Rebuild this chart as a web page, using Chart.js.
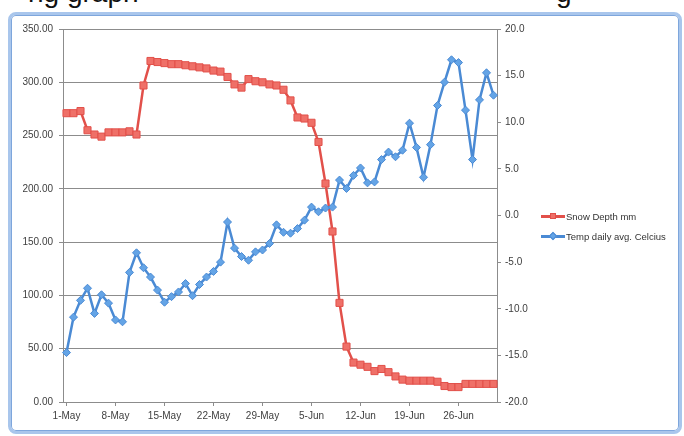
<!DOCTYPE html>
<html>
<head>
<meta charset="utf-8">
<script src="https://cdn.jsdelivr.net/npm/chart.js@4.4.1/dist/chart.umd.min.js"></script>
<style>
  body { margin: 0; background: #fff; width: 684px; height: 436px; overflow: hidden; position: relative; font-family: "Liberation Sans", Arial, sans-serif; }
  .frag { position: absolute; top: -21px; font-size: 28px; line-height: 28px; color: #111; font-family: "Liberation Sans", Arial, sans-serif; }
  #frame { position: absolute; left: 8px; top: 12px; width: 668px; height: 416px; border: 3px solid #a9c6ec; border-radius: 8px; box-shadow: inset 0 0 0 1px #7ea6dc; background: #fff; }
  #chart { position: absolute; left: 0; top: 0; }
  #legend { position: absolute; left: 541px; top: 206px; font-size: 9.5px; color: #333; }
  .item { height: 20px; display: flex; align-items: center; white-space: nowrap; }
  .sample { position: relative; width: 24px; height: 10px; margin-right: 1px; }
  .sample .ln { position: absolute; left: 0; top: 4px; width: 24px; height: 2.5px; }
  .sample .mk { position: absolute; left: 9px; top: 2px; width: 6px; height: 6px; }
</style>
</head>
<body>
<div class="frag" style="left:28px">ng graph</div>
<div class="frag" style="left:556px">g</div>
<div id="frame"></div>
<canvas id="chart" width="684" height="436"></canvas>
<div id="legend"></div>
<script>
const categories = [
  '1-May','2-May','3-May','4-May','5-May','6-May','7-May','8-May','9-May','10-May',
  '11-May','12-May','13-May','14-May','15-May','16-May','17-May','18-May','19-May','20-May',
  '21-May','22-May','23-May','24-May','25-May','26-May','27-May','28-May','29-May','30-May',
  '31-May','1-Jun','2-Jun','3-Jun','4-Jun','5-Jun','6-Jun','7-Jun','8-Jun','9-Jun',
  '10-Jun','11-Jun','12-Jun','13-Jun','14-Jun','15-Jun','16-Jun','17-Jun','18-Jun','19-Jun',
  '20-Jun','21-Jun','22-Jun','23-Jun','24-Jun','25-Jun','26-Jun','27-Jun','28-Jun','29-Jun',
  '30-Jun','1-Jul'
];
const xTickLabels = ['1-May','8-May','15-May','22-May','29-May','5-Jun','12-Jun','19-Jun','26-Jun'];

const snowDepth = [
  271, 271, 273, 255, 251, 249, 253, 253, 253, 254,
  251, 297, 320, 319, 318, 317, 317, 316, 315, 314,
  313, 311, 310, 305, 298, 295, 303, 301, 300, 298,
  297, 293, 283, 267, 266, 262, 244, 205, 160, 93,
  52, 37, 35, 33, 29, 31, 28, 24, 21, 20,
  20, 20, 20, 19, 15, 14, 14, 17, 17, 17,
  17, 17
];
const tempAvg = [
  -14.7, -10.9, -9.1, -7.8, -10.5, -8.5, -9.4, -11.2, -11.4, -6.1,
  -4.0, -5.6, -6.6, -8.0, -9.3, -8.7, -8.2, -7.3, -8.6, -7.4,
  -6.6, -6.0, -5.0, -0.7, -3.5, -4.4, -4.8, -3.9, -3.7, -3.0,
  -1.0, -1.8, -1.9, -1.4, -0.5, 0.9, 0.4, 0.8, 0.9, 3.8,
  2.9, 4.3, 5.1, 3.5, 3.6, 6.0, 6.8, 6.3, 7.0, 9.9,
  7.3, 4.1, 7.6, 11.8, 14.3, 16.7, 16.4, 11.3, 6.0, 12.4,
  15.3, 12.9
];
const seriesNames = ['Snow Depth mm', 'Temp daily avg. Celcius'];

const red = '#e2504a', redFill = '#ef7068';
const blue = '#4a8ad4', blueFill = '#64a4e6';
const gridColor = '#8c8c8c';
const tickFont = { family: '"Liberation Sans", Arial, sans-serif', size: 10 };

new Chart(document.getElementById('chart'), {
  type: 'line',
  data: {
    labels: categories,
    datasets: [
      {
        label: seriesNames[0], data: snowDepth, yAxisID: 'y', order: 1,
        borderColor: red, borderWidth: 2.5, tension: 0,
        pointStyle: 'rect', pointRadius: 5, pointBackgroundColor: redFill, pointBorderColor: red, pointBorderWidth: 1
      },
      {
        label: seriesNames[1], data: tempAvg, yAxisID: 'y1', order: 0,
        borderColor: blue, borderWidth: 2.5, tension: 0,
        pointStyle: 'rectRot', pointRadius: 4, pointBackgroundColor: blueFill, pointBorderColor: blue, pointBorderWidth: 1
      }
    ]
  },
  options: {
    responsive: false,
    animation: false,
    devicePixelRatio: 1,
    layout: { padding: { left: 0, right: 137, top: 29, bottom: 12 } },
    plugins: { legend: { display: false }, tooltip: { enabled: false } },
    scales: {
      x: {
        offset: true,
        grid: {
          drawOnChartArea: false, tickLength: 4,
          color: ctx => (xTickLabels.includes(categories[ctx.index]) ? gridColor : 'transparent')
        },
        border: { color: gridColor },
        ticks: {
          autoSkip: false, maxRotation: 0, padding: 4, color: '#404040', font: tickFont,
          callback: (v, i) => (xTickLabels.includes(categories[i]) ? categories[i] : '')
        },
        afterFit: s => { s.height = 22; }
      },
      y: {
        position: 'left', min: 0, max: 350,
        grid: { color: gridColor, tickLength: 4 },
        border: { color: gridColor },
        ticks: { stepSize: 50, padding: 6, color: '#404040', font: tickFont, callback: v => v.toFixed(2) },
        afterFit: s => { s.width = 63; }
      },
      y1: {
        position: 'right', min: -20, max: 20,
        grid: { drawOnChartArea: false, color: gridColor, tickLength: 4 },
        border: { color: gridColor },
        ticks: { stepSize: 5, padding: 4, color: '#404040', font: tickFont, callback: v => v.toFixed(1) },
        afterFit: s => { s.width = 50; }
      }
    }
  }
});

// legend built from the series names
const legend = document.getElementById('legend');
[[red, redFill, '0'], [blue, blueFill, '45deg']].forEach((st, i) => {
  const row = document.createElement('div');
  row.className = 'item';
  row.innerHTML = '<span class="sample"><span class="ln" style="background:' + st[0] + '"></span>' +
    '<span class="mk" style="background:' + st[1] + ';border:1px solid ' + st[0] + ';box-sizing:border-box;transform:rotate(' + st[2] + ')"></span></span>' +
    seriesNames[i];
  legend.appendChild(row);
});
</script>
</body>
</html>
